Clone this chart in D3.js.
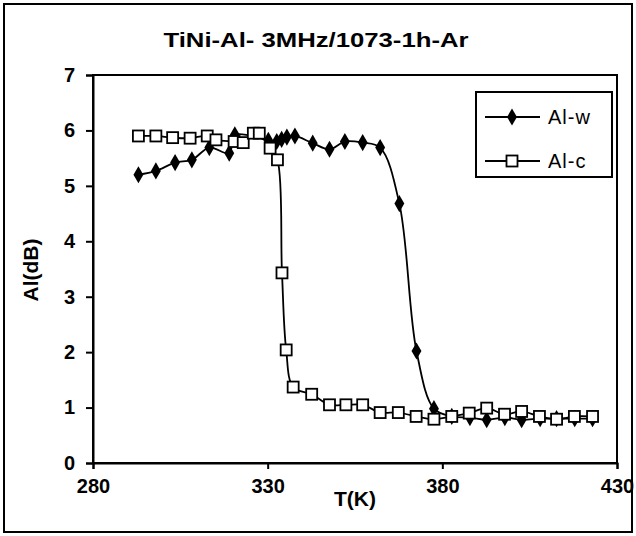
<!DOCTYPE html>
<html>
<head>
<meta charset="utf-8" />
<title>TiNi-Al</title>
<script src="https://cdn.jsdelivr.net/npm/d3@7"></script>
<style>
  body { margin: 0; background: #fff; }
  svg { font-family: "Liberation Sans", Arial, sans-serif; }
</style>
</head>
<body>
<svg width="636" height="536"></svg>
<script>
// Al-w : filled diamonds
var alwT = [293, 298, 303.5, 308.3, 313.3, 319, 320.6, 330.2, 332.6, 334, 335.5, 337.8, 342.9, 347.7, 352.1, 357.2, 362.2, 367.7, 372.6, 377.6, 382.7, 387.9, 392.7, 397.9, 402.7, 408, 412.7, 417.9, 423];
var alwV = [5.2, 5.27, 5.42, 5.47, 5.69, 5.59, 5.92, 5.82, 5.8, 5.84, 5.88, 5.9, 5.77, 5.66, 5.8, 5.78, 5.69, 4.68, 2.02, 0.98, 0.84, 0.82, 0.78, 0.82, 0.78, 0.8, 0.8, 0.8, 0.8];
// Al-c : open squares
var alcT = [293, 298, 302.8, 307.8, 312.7, 315.2, 320.4, 323, 325.9, 327.6, 330.7, 332.8, 334.1, 335.3, 337.3, 342.6, 347.7, 352.4, 357.2, 362.2, 367.4, 372.5, 377.6, 382.7, 387.7, 392.7, 397.8, 402.7, 407.8, 412.7, 417.8, 423];
var alcV = [5.9, 5.9, 5.87, 5.86, 5.9, 5.83, 5.8, 5.78, 5.95, 5.95, 5.68, 5.47, 3.43, 2.04, 1.37, 1.24, 1.05, 1.05, 1.05, 0.91, 0.91, 0.84, 0.79, 0.84, 0.9, 0.99, 0.88, 0.93, 0.84, 0.79, 0.84, 0.84];
var xTicks = [280, 330, 380, 430];
var yTicks = [0, 1, 2, 3, 4, 5, 6, 7];

var svg = d3.select('svg');

// outer frame
svg.append('rect')
    .attr('x', 4).attr('y', 4).attr('width', 628).attr('height', 528)
    .attr('fill', 'none').attr('stroke', '#000').attr('stroke-width', 2);

var x = d3.scaleLinear().domain([280, 430]).range([93, 617]);
var y = d3.scaleLinear().domain([0, 7]).range([463, 75]);

// plot box
svg.append('rect')
    .attr('x', x(280)).attr('y', y(7))
    .attr('width', x(430) - x(280)).attr('height', y(0) - y(7))
    .attr('fill', 'none').attr('stroke', '#000').attr('stroke-width', 2);

var xAxis = svg.append('g')
    .attr('transform', 'translate(0,' + y(0) + ')')
    .call(d3.axisBottom(x).tickValues(xTicks).tickSize(6).tickPadding(10).tickFormat(d3.format('d')));
var yAxis = svg.append('g')
    .attr('transform', 'translate(' + x(280) + ',0)')
    .call(d3.axisLeft(y).tickValues(yTicks).tickSize(7).tickPadding(11).tickFormat(d3.format('d')));

[xAxis, yAxis].forEach(function(g) {
    g.attr('font-size', null).attr('font-family', null);
    g.select('.domain').attr('stroke-width', 2);
    g.selectAll('.tick line').attr('stroke-width', 2);
    g.selectAll('text').style('font-size', '20px').style('font-weight', 'bold')
        .style('font-family', '"Liberation Sans", Arial, sans-serif').attr('fill', '#000');
});

svg.append('text')
    .attr('x', 316).attr('y', 47)
    .attr('text-anchor', 'middle')
    .style('font-size', '21px').style('font-weight', 'bold')
    .attr('textLength', 305).attr('lengthAdjust', 'spacingAndGlyphs')
    .text('TiNi-Al- 3MHz/1073-1h-Ar');

svg.append('text')
    .attr('x', 355).attr('y', 506)
    .attr('text-anchor', 'middle')
    .style('font-size', '21px').style('font-weight', 'bold')
    .text('T(K)');

svg.append('text')
    .attr('transform', 'translate(38,270) rotate(-90)')
    .attr('text-anchor', 'middle')
    .style('font-size', '21px').style('font-weight', 'bold')
    .text('Al(dB)');

var line = d3.line()
    .x(function(d) { return x(d[0]); })
    .y(function(d) { return y(d[1]); })
    .curve(d3.curveCatmullRom.alpha(0.5));

var alw = alwT.map(function(t, i) { return [t, alwV[i]]; });
var alc = alcT.map(function(t, i) { return [t, alcV[i]]; });

var diamond = d3.symbol().type(d3.symbolDiamond).size(85);

function drawSeries(data, marker) {
    svg.append('path')
        .datum(data)
        .attr('d', line)
        .attr('fill', 'none').attr('stroke', '#000').attr('stroke-width', 1.8);
    var g = svg.append('g');
    if (marker === 'diamond') {
        g.selectAll('path').data(data).enter().append('path')
            .attr('d', diamond)
            .attr('transform', function(d) { return 'translate(' + x(d[0]) + ',' + y(d[1]) + ')'; })
            .attr('fill', '#000');
    } else {
        g.selectAll('rect').data(data).enter().append('rect')
            .attr('x', function(d) { return x(d[0]) - 5.5; })
            .attr('y', function(d) { return y(d[1]) - 5.5; })
            .attr('width', 11).attr('height', 11)
            .attr('fill', '#fff').attr('stroke', '#000').attr('stroke-width', 1.8);
    }
}

drawSeries(alw, 'diamond');
drawSeries(alc, 'square');

// legend
var leg = svg.append('g');
leg.append('rect')
    .attr('x', 476).attr('y', 92).attr('width', 136).attr('height', 85)
    .attr('fill', '#fff').attr('stroke', '#000').attr('stroke-width', 2);
var items = [{ name: 'Al-w', m: 'diamond', y: 117 }, { name: 'Al-c', m: 'square', y: 161 }];
items.forEach(function(it) {
    leg.append('line')
        .attr('x1', 485).attr('x2', 540).attr('y1', it.y).attr('y2', it.y)
        .attr('stroke', '#000').attr('stroke-width', 1.8);
    if (it.m === 'diamond') {
        leg.append('path').attr('d', diamond)
            .attr('transform', 'translate(512,' + it.y + ')').attr('fill', '#000');
    } else {
        leg.append('rect').attr('x', 506.5).attr('y', it.y - 5.5).attr('width', 11).attr('height', 11)
            .attr('fill', '#fff').attr('stroke', '#000').attr('stroke-width', 1.8);
    }
    leg.append('text')
        .attr('x', 548).attr('y', it.y + 7)
        .style('font-size', '20px')
        .style('letter-spacing', '1px')
        .text(it.name);
});
</script>
</body>
</html>
